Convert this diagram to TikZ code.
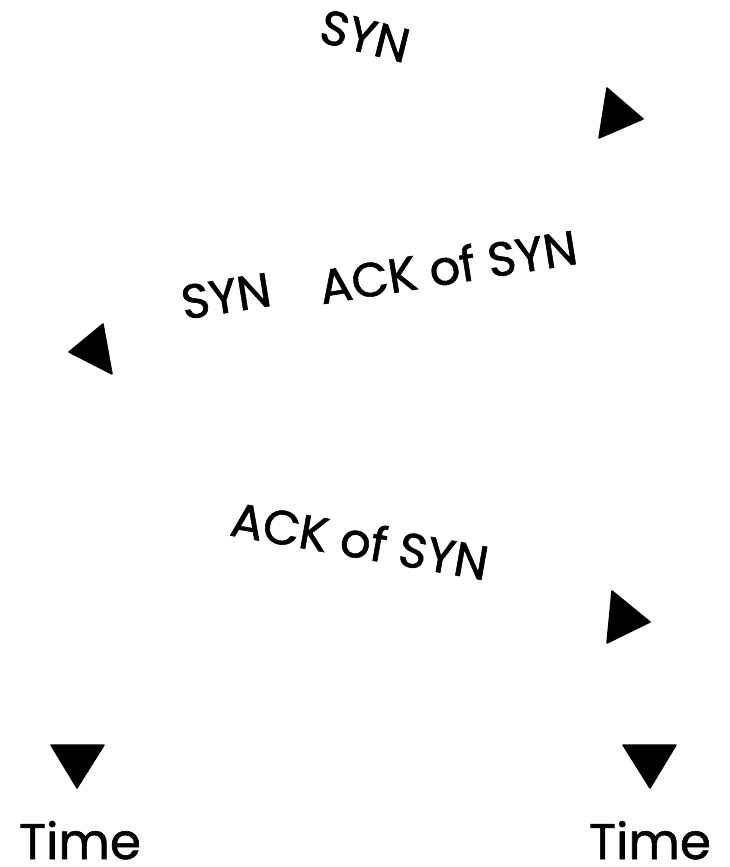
\documentclass[tikz,border=0pt]{standalone}
\usepackage{fontspec}
\setmainfont{Poppins}[FakeBold=1.2]
\begin{document}
\begin{tikzpicture}[x=1pt,y=-1pt,
  lbl/.style={inner sep=0pt, font=\fontsize{48}{50}\selectfont},
  tlbl/.style={inner sep=0pt, anchor=base, font=\fontsize{50}{52}\selectfont},
  head/.style={fill=black, draw=black, line width=1.5pt, line join=round}]
\useasboundingbox (0,0) rectangle (729,867);
% labels
\node[lbl, rotate=-14] (syn1) at (365,36) {SYN};
\node[lbl, rotate=9] (syn2) at (226,296) {SYN};
\node[lbl, rotate=9] (ack1) at (448,266) {ACK of SYN};
\node[lbl, rotate=-10] (ack2) at (360,540) {ACK of SYN};
\node[tlbl] (timeA) at (80,859) {Time};
\node[tlbl] (timeB) at (650,859) {Time};
% arrowheads
\coordinate (h1a) at (607,88); \coordinate (h1b) at (599,138); \coordinate (h1c) at (643,119);
\fill[head] (h1a) -- (h1c) -- (h1b) -- cycle;
\coordinate (h2a) at (103,324); \coordinate (h2b) at (112,374); \coordinate (h2c) at (69,352);
\fill[head] (h2a) -- (h2c) -- (h2b) -- cycle;
\coordinate (h3a) at (612,591); \coordinate (h3b) at (607,643); \coordinate (h3c) at (650,622);
\fill[head] (h3a) -- (h3c) -- (h3b) -- cycle;
\coordinate (h4a) at (51,745); \coordinate (h4b) at (104,745); \coordinate (h4c) at (77,788);
\fill[head] (h4a) -- (h4b) -- (h4c) -- cycle;
\coordinate (h5a) at (623,745); \coordinate (h5b) at (676,745); \coordinate (h5c) at (650,788);
\fill[head] (h5a) -- (h5b) -- (h5c) -- cycle;
\end{tikzpicture}
\end{document}
